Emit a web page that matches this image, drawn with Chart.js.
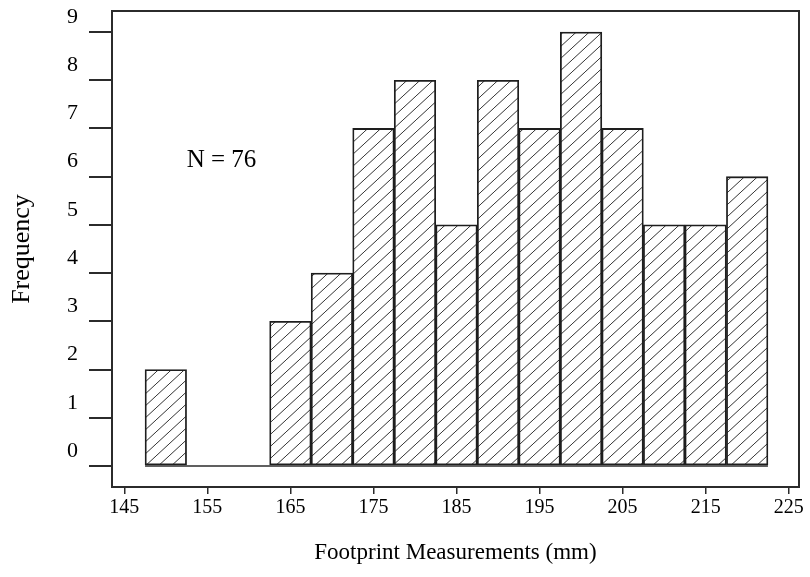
<!DOCTYPE html>
<html>
<head>
<meta charset="utf-8">
<script src="https://cdn.jsdelivr.net/npm/chart.js@4"></script>
<style>
    html, body { margin: 0; padding: 0; background: #fff; }
    #contenedor { width: 810px; height: 577px; }
</style>
</head>
<body>
<div id="contenedor"><canvas id="graficoHuellas"></canvas></div>
<script>
    // Datos del histograma (centro de cada clase de 5 mm)
    const centrosClase = [150, 155, 160, 165, 170, 175, 180, 185, 190, 195, 200, 205, 210, 215, 220];
    const frecuencias  = [2, 0, 0, 3, 4, 7, 8, 5, 8, 7, 9, 7, 5, 5, 6];
    const ticksX = [145, 155, 165, 175, 185, 195, 205, 215, 225];
    const ticksY = [0, 1, 2, 3, 4, 5, 6, 7, 8, 9];
    const totalN = 76;

    const fuente = '"Liberation Serif", "Times New Roman", serif';
    const colorLinea = '#2b2b2b';

    // Trama de rayas diagonales para las barras
    function crearRayado() {
        const w = 13, h = 12;
        const c = document.createElement('canvas');
        c.width = w; c.height = h;
        const g = c.getContext('2d');
        g.fillStyle = '#fff';
        g.fillRect(0, 0, w, h);
        g.strokeStyle = '#333';
        g.lineWidth = 1;
        g.beginPath();
        g.moveTo(-2, h + 2 * h / w);
        g.lineTo(w + 2, -2 * h / w);
        g.stroke();
        return g.createPattern(c, 'repeat');
    }

    // Marco completo, línea base y texto N
    const marco = {
        id: 'marco',
        beforeDatasetsDraw(chart) {
            const { ctx, scales: { x, y } } = chart;
            ctx.save();
            ctx.strokeStyle = colorLinea;
            ctx.lineWidth = 1.5;
            ctx.beginPath();
            ctx.moveTo(x.getPixelForValue(centrosClase[0] - 2.5), y.getPixelForValue(0));
            ctx.lineTo(x.getPixelForValue(centrosClase[centrosClase.length - 1] + 2.5), y.getPixelForValue(0));
            ctx.stroke();
            ctx.restore();
        },
        afterDraw(chart) {
            const { ctx, chartArea: a, scales: { x, y } } = chart;
            ctx.save();
            ctx.strokeStyle = colorLinea;
            ctx.lineWidth = 2;
            ctx.strokeRect(a.left, a.top, a.right - a.left, a.bottom - a.top);
            ctx.fillStyle = '#000';
            ctx.font = '25px ' + fuente;
            ctx.textAlign = 'center';
            ctx.textBaseline = 'middle';
            ctx.fillText('N = ' + totalN, x.getPixelForValue(156.7), y.getPixelForValue(6.33));
            ctx.restore();
        }
    };

    const ctx = document.getElementById('graficoHuellas').getContext('2d');
    new Chart(ctx, {
        type: 'bar',
        data: {
            datasets: [{
                data: centrosClase.map((c, i) => ({ x: c, y: frecuencias[i] })),
                backgroundColor: crearRayado(),
                borderColor: '#1e1e1e',
                borderWidth: 1.8,
                borderSkipped: false,
                barPercentage: 1,
                categoryPercentage: 1
            }]
        },
        options: {
            responsive: true,
            maintainAspectRatio: false,
            animation: false,
            layout: { padding: { left: 0, right: 11, top: 11, bottom: 0 } },
            plugins: { legend: { display: false }, tooltip: { enabled: false } },
            scales: {
                x: {
                    type: 'linear',
                    offset: false,
                    min: 143.52,
                    max: 226.24,
                    afterBuildTicks: s => { s.ticks = ticksX.map(v => ({ value: v })); },
                    afterFit: s => { s.height = 90; },
                    grid: { offset: false, drawOnChartArea: false, drawTicks: true, tickLength: 7, color: colorLinea, lineWidth: 1.5 },
                    border: { display: true, color: colorLinea, width: 2 },
                    ticks: { color: '#000', font: { family: fuente, size: 20 }, padding: 2, maxRotation: 0 },
                    title: {
                        display: true,
                        text: 'Footprint Measurements (mm)',
                        color: '#000',
                        font: { family: fuente, size: 23 },
                        padding: { top: 0, bottom: 10 }
                    }
                },
                y: {
                    min: -0.435,
                    max: 9.435,
                    afterBuildTicks: s => { s.ticks = ticksY.map(v => ({ value: v })); },
                    afterFit: s => { s.width = 112; s.paddingTop = 0; s.paddingBottom = 0; },
                    grid: { drawOnChartArea: false, drawTicks: true, tickLength: 23, color: colorLinea, lineWidth: 2 },
                    border: { display: true, color: colorLinea, width: 2 },
                    ticks: { color: '#000', font: { family: fuente, size: 22 }, padding: 11, labelOffset: -15 },
                    title: {
                        display: true,
                        text: 'Frequency',
                        color: '#000',
                        font: { family: fuente, size: 26 },
                        padding: { top: 7, bottom: 0 }
                    }
                }
            }
        },
        plugins: [marco]
    });
</script>
</body>
</html>
